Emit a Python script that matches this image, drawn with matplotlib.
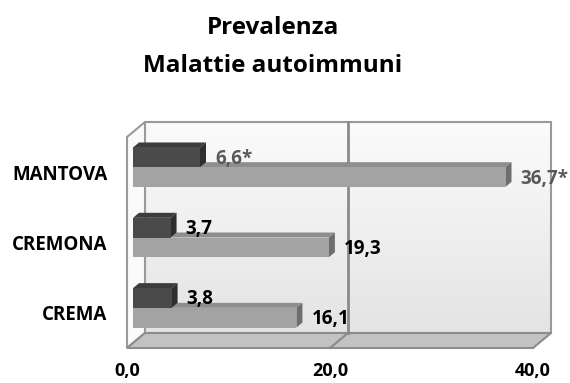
import numpy as np
import matplotlib
matplotlib.use("Agg")
import matplotlib.pyplot as plt
from matplotlib.patches import Polygon

# Data
categories = ["CREMA", "CREMONA", "MANTOVA"]
dark_values = [3.8, 3.7, 6.6]
light_values = [16.1, 19.3, 36.7]
dark_labels = ["3,8", "3,7", "6,6*"]
light_labels = ["16,1", "19,3", "36,7*"]
dark_label_colors = ["black", "black", "#595959"]
light_label_colors = ["black", "black", "#595959"]
xticks = [0, 20, 40]
xtick_labels = ["0,0", "20,0", "40,0"]

FONT = "Open Sans"
W, H = 570, 383

fig = plt.figure(figsize=(W / 100, H / 100), dpi=100)
# front plane of the 3d box, in pixels
L, R, T, B = 127, 533, 137, 348
ax = fig.add_axes([L / W, 1 - B / H, (R - L) / W, (B - T) / H])
ax.set_xlim(0, 40)
ax.set_ylim(-0.5, 2.5)
ax.patch.set_visible(False)
for s in ax.spines.values():
    s.set_visible(False)

# depth step (one third of box depth) in data units: 6 px right, 5 px up
dx = 40 * 6 / (R - L)
dy = 3 * 5 / (B - T)
x0, x1 = 0, 40
y0, y1 = -0.5, 2.5
edge = "#9a9a9a"

# back wall with gradient
grad = np.linspace(0, 1, 100).reshape(-1, 1)
ax.imshow(grad, cmap=matplotlib.colors.LinearSegmentedColormap.from_list(
    "w", ["#e4e4e4", "#fbfbfb"]), origin="lower", aspect="auto",
    extent=[x0 + 3 * dx, x1 + 3 * dx, y0 + 3 * dy, y1 + 3 * dy],
    clip_on=False, zorder=0)
ax.add_patch(Polygon([(x0 + 3 * dx, y0 + 3 * dy), (x1 + 3 * dx, y0 + 3 * dy),
                      (x1 + 3 * dx, y1 + 3 * dy), (x0 + 3 * dx, y1 + 3 * dy)],
                     closed=True, fill=False, ec=edge, lw=1.5, clip_on=False, zorder=1))
# left wall
ax.add_patch(Polygon([(x0, y0), (x0, y1), (x0 + 3 * dx, y1 + 3 * dy), (x0 + 3 * dx, y0 + 3 * dy)],
                     closed=True, fc="#fafafa", ec=edge, lw=1.5, clip_on=False, zorder=1))
# floor
ax.add_patch(Polygon([(x0, y0), (x1, y0), (x1 + 3 * dx, y0 + 3 * dy), (x0 + 3 * dx, y0 + 3 * dy)],
                     closed=True, fc="#c2c2c2", ec="#8c8c8c", lw=1.5, clip_on=False, zorder=1))
# gridline at 20
for xv in [20]:
    ax.plot([xv + 3 * dx, xv + 3 * dx], [y0 + 3 * dy, y1 + 3 * dy], color="#8a8a8a", lw=2,
            clip_on=False, zorder=1)
    ax.plot([xv, xv + 3 * dx], [y0, y0 + 3 * dy], color="#8a8a8a", lw=1.5,
            clip_on=False, zorder=1)

pos = np.arange(len(categories))
bh = 0.28


def bar3d(vals, yc, front, top, side, z):
    ax.barh(yc + dy, vals, height=bh, left=dx, color=front, zorder=z, clip_on=False)
    for v, y in zip(vals, yc):
        yt = y + dy + bh / 2
        yb = y + dy - bh / 2
        ax.add_patch(Polygon([(dx, yt), (dx + v, yt), (2 * dx + v, yt + dy), (2 * dx, yt + dy)],
                             closed=True, fc=top, ec="none", zorder=z - 0.5, clip_on=False))
        ax.add_patch(Polygon([(dx + v, yb), (dx + v, yt), (2 * dx + v, yt + dy), (2 * dx + v, yb + dy)],
                             closed=True, fc=side, ec="none", zorder=z - 0.5, clip_on=False))


bar3d(light_values, pos - 0.14, "#a3a3a3", "#8e8e8e", "#6e6e6e", 3)
bar3d(dark_values, pos + 0.14, "#4a4a4a", "#3c3c3c", "#2e2e2e", 5)

for vals, yc, labs, cols in [(light_values, pos - 0.14, light_labels, light_label_colors),
                             (dark_values, pos + 0.14, dark_labels, dark_label_colors)]:
    for v, y, lab, c in zip(vals, yc, labs, cols):
        ax.annotate(lab, (dx + v, y + dy), xytext=(15, -1.5), textcoords="offset pixels",
                    ha="left", va="center", fontsize=13.5, fontweight="bold",
                    family=FONT, color=c, zorder=6)

ax.set_xticks(xticks)
ax.set_xticklabels(xtick_labels, fontsize=13, fontweight="bold", family=FONT)
ax.set_yticks(pos)
ax.set_yticklabels(categories, fontsize=13.5, fontweight="bold", family=FONT)
ax.tick_params(axis="x", length=0, pad=10)
ax.tick_params(axis="y", length=0, pad=14)

fig.text(273 / W, 1 - 28 / H, "Prevalenza", ha="center", va="center",
         fontsize=17.5, fontweight="bold", family=FONT)
fig.text(273 / W, 1 - 66 / H, "Malattie autoimmuni", ha="center", va="center",
         fontsize=17.5, fontweight="bold", family=FONT)

fig.savefig("out.png", dpi=100)
